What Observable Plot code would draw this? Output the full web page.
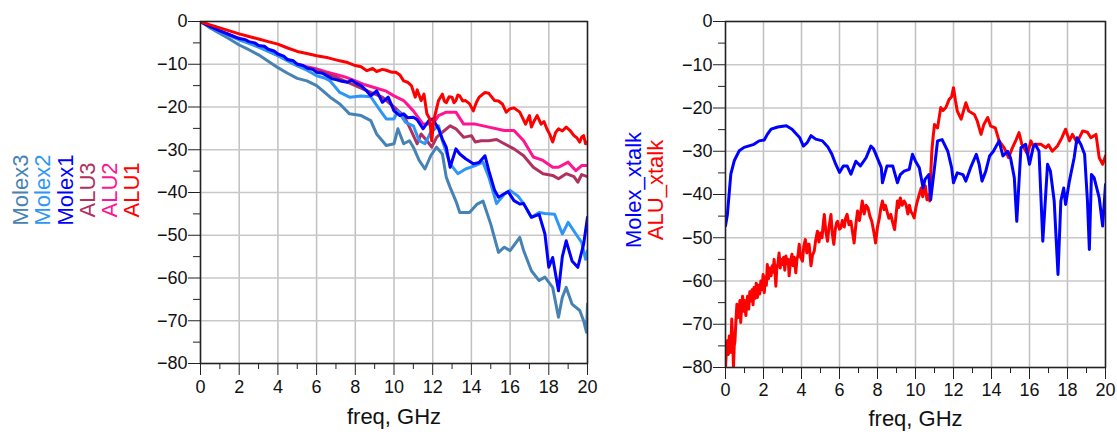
<!DOCTYPE html>
<html>
<head>
<meta charset="utf-8">
<script src="https://cdn.jsdelivr.net/npm/d3@7"></script>
<script src="https://cdn.jsdelivr.net/npm/@observablehq/plot@0.6"></script>
<style>
  html, body { margin: 0; padding: 0; background: #fff; }
  #wrap { position: relative; width: 1117px; height: 437px; overflow: hidden; font-family: "Liberation Sans", Arial, sans-serif; }
  #wrap svg { position: absolute; top: 0; }
  .leg { position: absolute; white-space: nowrap; font-size: 22px; line-height: 1; transform: translate(-50%, -50%) rotate(-90deg); }
</style>
</head>
<body>
<div id="wrap"></div>
<script>
// ---------- data (freq GHz, dB) ----------
const molex1 = [[0,0],[0.5,-1.2],[1,-2.2],[1.5,-3.1],[2,-4.0],[2.3,-4.2],[2.5,-4.7],[2.8,-5.0],[3,-5.6],[3.3,-5.8],[3.5,-6.5],[3.8,-6.9],[4,-7.6],[4.3,-8.1],[4.5,-8.9],[4.8,-9.2],[5,-10.0],[5.3,-10.3],[5.5,-10.9],[5.8,-11.2],[6,-11.9],[6.3,-12.1],[6.5,-12.6],[6.8,-13.4],[7,-13.6],[7.3,-14.0],[7.6,-14.2],[7.8,-13.7],[8.1,-14.6],[8.3,-15.0],[8.6,-16.3],[8.8,-17.4],[9.1,-16.2],[9.4,-18.9],[9.7,-17.7],[10,-20.9],[10.3,-22.0],[10.5,-21.6],[10.7,-22.5],[11,-22.4],[11.2,-23.0],[11.5,-25.1],[11.8,-23.2],[12,-22.8],[12.3,-25.1],[12.5,-27.5],[12.7,-29.4],[12.9,-34.1],[13.2,-29.8],[13.4,-31.0],[13.7,-32.1],[14.1,-33.3],[14.4,-33.0],[14.7,-31.4],[14.9,-34.9],[15.2,-39.5],[15.4,-41.1],[15.7,-40.3],[15.9,-39.8],[16.2,-41.9],[16.5,-42.7],[16.7,-42.6],[17.1,-45.8],[17.5,-45.1],[17.8,-49.7],[18,-57.5],[18.2,-55.2],[18.5,-63.0],[18.7,-55.0],[18.9,-51.3],[19.2,-56.0],[19.5,-57.5],[19.8,-52.1],[20,-45.8]];
const molex2 = [[0,0],[0.5,-1.3],[1,-2.4],[1.5,-3.3],[2,-4.3],[2.5,-5.1],[3,-6.0],[3.5,-7.0],[4,-8.0],[4.5,-9.2],[5,-10.4],[5.5,-11.4],[6,-12.7],[6.4,-13.2],[6.7,-13.9],[7.2,-16.6],[7.7,-17.7],[8.3,-17.4],[8.8,-17.6],[9.3,-20.9],[9.6,-22.8],[10,-22.8],[10.2,-20.9],[10.6,-23.6],[11,-24.4],[11.3,-27.9],[11.6,-28.6],[11.9,-25.9],[12.3,-24.4],[12.5,-27.9],[12.9,-33.3],[13.3,-35.6],[13.7,-34.5],[14.2,-33.7],[14.6,-32.9],[14.9,-36.4],[15.3,-42.6],[15.7,-40.4],[16,-39.5],[16.4,-40.8],[16.7,-42.6],[17.1,-45.8],[17.5,-44.7],[17.8,-44.9],[18.3,-45.1],[18.7,-49.7],[19,-47.0],[19.4,-49.7],[19.7,-51.7],[19.9,-55.6],[20,-53.6]];
const molex3 = [[0,0],[0.5,-1.5],[1,-2.8],[1.5,-4.1],[2,-5.5],[2.5,-6.6],[3,-7.8],[3.5,-9.3],[4,-10.8],[4.5,-12.1],[5,-13.3],[5.5,-13.9],[6,-15.0],[6.4,-16.5],[6.7,-17.7],[7.2,-19.3],[7.7,-21.6],[8.3,-22.0],[8.8,-23.2],[9.1,-26.3],[9.6,-29.0],[10,-28.6],[10.2,-25.1],[10.5,-28.6],[10.8,-27.9],[11,-29.4],[11.3,-32.5],[11.6,-34.5],[11.9,-31.4],[12.2,-29.4],[12.5,-31.0],[12.7,-36.4],[12.9,-38.8],[13.2,-42.0],[13.4,-44.7],[13.9,-44.7],[14.3,-42.7],[14.6,-42.0],[15,-47.4],[15.4,-54.0],[15.7,-52.8],[16,-53.6],[16.5,-50.5],[16.7,-53.6],[17.1,-58.3],[17.5,-60.6],[17.8,-59.8],[18.2,-62.2],[18.5,-69.2],[18.7,-64.5],[18.9,-62.2],[19.2,-66.1],[19.6,-67.6],[19.8,-70.0],[19.95,-72.7],[20,-66.1]];
const alu1 = [[0,0],[0.5,-0.8],[1,-1.5],[1.5,-2.2],[2,-2.9],[2.5,-3.5],[3,-4.1],[3.5,-4.7],[4,-5.3],[4.5,-6.2],[5,-7.0],[5.5,-7.5],[6,-8.0],[6.6,-8.5],[7.2,-9.2],[7.6,-9.6],[8,-10.3],[8.3,-10.6],[8.6,-11.5],[8.9,-11.0],[9.1,-11.7],[9.4,-11.2],[9.6,-11.4],[9.9,-11.9],[10.1,-11.9],[10.3,-12.5],[10.5,-13.9],[10.7,-14.2],[10.9,-15.0],[11.1,-17.7],[11.2,-16.0],[11.4,-18.5],[11.55,-17.0],[11.7,-21.6],[11.85,-22.8],[11.95,-27.9],[12.05,-23.2],[12.3,-18.5],[12.5,-17.0],[12.6,-18.6],[12.7,-19.0],[12.85,-17.6],[13,-17.7],[13.1,-19.0],[13.2,-18.5],[13.3,-17.2],[13.4,-17.4],[13.55,-18.6],[13.7,-18.5],[13.9,-19.2],[14.1,-20.9],[14.25,-19.0],[14.4,-17.7],[14.7,-16.6],[14.9,-16.8],[15.2,-18.5],[15.4,-18.6],[15.6,-19.3],[15.8,-21.2],[16.0,-20.4],[16.2,-20.2],[16.5,-21.2],[16.65,-22.6],[16.8,-24.0],[17,-22.0],[17.1,-24.7],[17.25,-23.2],[17.4,-22.0],[17.6,-24.0],[17.75,-23.4],[17.9,-25.1],[18.05,-26.4],[18.2,-28.2],[18.35,-26.0],[18.5,-25.1],[18.7,-25.6],[18.9,-24.7],[19.1,-25.5],[19.3,-26.7],[19.45,-27.2],[19.6,-28.2],[19.7,-27.0],[19.8,-26.7],[19.9,-28.6],[20,-28.2]];
const alu2 = [[0,0],[0.5,-1.2],[1,-2.2],[1.5,-3.1],[2,-4.0],[2.5,-4.9],[3,-5.8],[3.5,-6.8],[4,-7.8],[4.5,-8.9],[5,-9.9],[5.5,-10.6],[6,-11.1],[6.5,-11.8],[7,-12.4],[7.5,-13.0],[8,-13.9],[8.5,-14.8],[9.1,-15.6],[9.6,-16.3],[10,-17.4],[10.5,-18.5],[11,-20.9],[11.5,-24.0],[12,-24.0],[12.3,-22.0],[12.7,-21.2],[13.2,-21.2],[13.6,-24.0],[14.2,-24.0],[14.9,-24.7],[15.7,-25.5],[16.2,-25.5],[16.7,-27.9],[17.2,-31.7],[17.7,-32.5],[18.2,-34.1],[18.5,-34.1],[19,-32.9],[19.4,-34.9],[19.7,-33.7],[20,-33.7]];
const alu3 = [[0,0],[0.5,-1.2],[1,-2.2],[1.5,-3.2],[2,-4.1],[2.5,-5.0],[3,-5.9],[3.5,-6.9],[4,-7.9],[4.5,-9.0],[5,-10.1],[5.5,-10.8],[6,-11.4],[6.5,-12.2],[7,-13.0],[7.5,-14.0],[8,-15.0],[8.8,-16.6],[9.4,-17.7],[10,-20.0],[10.5,-22.0],[10.8,-24.7],[11.2,-28.6],[11.4,-26.3],[11.7,-27.9],[11.95,-29.4],[12.2,-27.1],[12.5,-25.9],[12.9,-24.4],[13.2,-25.1],[13.6,-27.1],[14,-26.7],[14.2,-28.2],[14.5,-27.9],[14.9,-27.9],[15.3,-27.6],[15.7,-28.6],[16.2,-29.8],[16.7,-31.4],[17.2,-34.1],[17.7,-35.6],[18.2,-36.0],[18.5,-36.8],[18.9,-35.6],[19.3,-36.3],[19.5,-37.6],[19.7,-35.8],[20,-36.3]];

const molexXtalk = [[0,-47.2],[0.1,-44.6],[0.28,-35.3],[0.46,-32.2],[0.72,-29.9],[0.98,-29.1],[1.5,-28.4],[1.77,-27.6],[2.04,-27.4],[2.2,-26.1],[2.4,-24.9],[2.75,-24.4],[3.2,-24.1],[3.5,-24.9],[3.9,-26.8],[4.1,-28.8],[4.3,-28.0],[4.5,-26.4],[4.75,-27.2],[5.1,-27.6],[5.4,-29.1],[5.6,-30.7],[5.8,-33.0],[6,-34.9],[6.2,-33.4],[6.4,-33.4],[6.6,-35.3],[6.86,-32.3],[7.1,-33.4],[7.4,-31.5],[7.65,-28.8],[7.8,-29.5],[8.2,-33.8],[8.26,-37.3],[8.5,-33.4],[8.8,-33.4],[9.05,-37.3],[9.2,-35.4],[9.4,-34.6],[9.67,-34.2],[9.84,-30.7],[10,-32.3],[10.2,-33.8],[10.4,-38.5],[10.5,-36.5],[10.7,-35.4],[10.8,-41.2],[11,-33.8],[11.16,-27.6],[11.4,-27.3],[11.7,-30.0],[11.9,-33.8],[12,-37.3],[12.2,-35.0],[12.5,-35.4],[12.65,-36.9],[12.9,-33.8],[13.2,-30.7],[13.35,-33.0],[13.5,-36.9],[13.7,-34.6],[13.9,-31.1],[14.1,-30.0],[14.4,-27.6],[14.6,-31.1],[14.85,-30.0],[15,-31.5],[15.2,-36.1],[15.33,-46.2],[15.55,-29.2],[15.8,-28.4],[16,-33.0],[16.2,-29.0],[16.3,-28.4],[16.5,-30.0],[16.7,-50.8],[16.95,-33.0],[17.1,-34.6],[17.3,-41.5],[17.5,-58.5],[17.65,-41.5],[17.8,-38.5],[17.9,-42.3],[18.1,-36.9],[18.35,-31.5],[18.5,-26.9],[18.7,-28.4],[18.9,-30.7],[19.05,-41.5],[19.15,-52.7],[19.26,-35.4],[19.4,-36.1],[19.67,-40.8],[19.85,-47.3],[20,-37.7]];
const aluXtalk = [[0,-80],[0.05,-76],[0.1,-73.8],[0.15,-77],[0.2,-72.7],[0.25,-75],[0.28,-76.5],[0.33,-68.8],[0.38,-74],[0.42,-80],[0.46,-75],[0.5,-73.8],[0.55,-69],[0.6,-65.4],[0.65,-68.5],[0.72,-66.9],[0.76,-64.5],[0.8,-69.6],[0.85,-66],[0.9,-63.5],[0.95,-67],[1.0,-64.5],[1.07,-68],[1.12,-65],[1.16,-63.5],[1.22,-66.5],[1.28,-62.5],[1.33,-64.6],[1.4,-62],[1.45,-65.5],[1.5,-61.5],[1.56,-64],[1.62,-60.5],[1.68,-63.8],[1.74,-61],[1.8,-63],[1.86,-60],[1.92,-62],[1.98,-58.5],[2.04,-62.7],[2.1,-59],[2.15,-61],[2.2,-56.2],[2.26,-59.5],[2.32,-57],[2.4,-58.8],[2.46,-56.5],[2.5,-58],[2.56,-55],[2.6,-57.5],[2.65,-61.2],[2.7,-57],[2.76,-56],[2.82,-53.5],[2.88,-57],[2.94,-55],[3,-56.2],[3.06,-54.5],[3.12,-57.5],[3.18,-54.2],[3.24,-56],[3.3,-55],[3.35,-58.8],[3.42,-55.5],[3.5,-53.8],[3.56,-56.5],[3.62,-54.5],[3.7,-58.1],[3.76,-55],[3.82,-54],[3.88,-51.5],[3.95,-54.5],[4.05,-55.4],[4.12,-52],[4.2,-50.4],[4.28,-53.5],[4.34,-51.5],[4.4,-51.5],[4.45,-54],[4.5,-56.5],[4.58,-54],[4.67,-53.1],[4.75,-50.5],[4.84,-48.5],[4.92,-51],[5,-48.9],[5.08,-50],[5.14,-47],[5.2,-44.6],[5.28,-48.5],[5.37,-50.8],[5.45,-47.5],[5.55,-44.6],[5.62,-49],[5.7,-51.5],[5.78,-48],[5.85,-46.5],[5.9,-46.2],[6.0,-48],[6.07,-47.7],[6.15,-46],[6.25,-47.5],[6.32,-45.5],[6.4,-44.6],[6.5,-47],[6.6,-46.2],[6.68,-48.5],[6.77,-51.2],[6.86,-47],[6.95,-43.8],[7.05,-46],[7.12,-44],[7.2,-41.5],[7.3,-44.5],[7.4,-42.5],[7.5,-43.1],[7.6,-45],[7.7,-46.2],[7.8,-48.5],[7.9,-51.2],[8.0,-47.5],[8.1,-45.4],[8.18,-43],[8.26,-41.5],[8.35,-43.5],[8.42,-42.5],[8.5,-43.9],[8.6,-45.5],[8.7,-44.6],[8.8,-46.5],[8.9,-48.1],[8.97,-45],[9.05,-41.5],[9.12,-43],[9.2,-40.8],[9.3,-42.5],[9.4,-41.5],[9.5,-42.3],[9.6,-44.5],[9.68,-42.5],[9.75,-43.9],[9.84,-44.5],[9.93,-45.4],[10.02,-43],[10.1,-41.5],[10.2,-40],[10.3,-38.5],[10.38,-40.5],[10.45,-39.2],[10.52,-38],[10.6,-41.2],[10.7,-40],[10.75,-41.5],[10.8,-35.4],[10.86,-30],[10.92,-27],[11,-23.8],[11.16,-24.6],[11.33,-19.9],[11.45,-20.6],[11.6,-19.9],[11.77,-18],[11.9,-17.4],[12,-15.3],[12.1,-18.2],[12.2,-20.7],[12.4,-22.6],[12.65,-18.8],[12.8,-20.7],[13.1,-21.5],[13.25,-23],[13.45,-26.1],[13.6,-23.8],[13.8,-22.2],[13.96,-24.2],[14.2,-24.6],[14.4,-27.6],[14.67,-29.2],[14.9,-31.5],[15.1,-29.2],[15.3,-27.3],[15.45,-25.7],[15.6,-28.4],[15.9,-30.7],[16.07,-27.6],[16.2,-28.8],[16.33,-28.4],[16.6,-28.4],[16.86,-29.2],[17,-28.5],[17.2,-30],[17.47,-28.8],[17.7,-26.9],[17.9,-24.9],[18.1,-27.6],[18.26,-26.1],[18.5,-28],[18.8,-25.3],[19.05,-25.6],[19.23,-26.9],[19.5,-26.1],[19.67,-31.5],[19.85,-33],[20,-31.1]];

const xMajor = [0,2,4,6,8,10,12,14,16,18,20];
const xMinor = [1,3,5,7,9,11,13,15,17,19];
const yMajor = [-80,-70,-60,-50,-40,-30,-20,-10,0];
const yMinor = [-75,-65,-55,-45,-35,-25,-15,-5];
const xLabel = "freq, GHz";

const leftSeries = [
  {name: "Molex3", data: molex3, color: "#4682B4"},
  {name: "Molex2", data: molex2, color: "#2E96F5"},
  {name: "Molex1", data: molex1, color: "#0000FF"},
  {name: "ALU3", data: alu3, color: "#B03060"},
  {name: "ALU2", data: alu2, color: "#FF1493"},
  {name: "ALU1", data: alu1, color: "#FF0000"}
];
const rightSeries = [
  {name: "Molex_xtalk", data: molexXtalk, color: "#0000FF"},
  {name: "ALU_xtalk", data: aluXtalk, color: "#FF0000"}
];

function panel(series, drawOrder, {width, marginLeft, marginRight, marginBottom, tickPadX, labelDy}) {
  return Plot.plot({
    width, height: 437,
    marginLeft, marginRight, marginTop: 21, marginBottom,
    x: {domain: [0, 20]},
    y: {domain: [-80, 0]},
    style: {fontFamily: "'Liberation Sans', Arial, sans-serif", fontSize: "18px", color: "#111", background: "transparent", overflow: "visible"},
    marks: [
      Plot.gridX(xMajor, {stroke: "#c0c0c0", strokeOpacity: 1, strokeWidth: 1.5}),
      Plot.gridY(yMajor, {stroke: "#c8c8c8", strokeOpacity: 1, strokeWidth: 1.5}),
      ...drawOrder.map(i => Plot.line(series[i].data, {x: d => d[0], y: d => d[1], stroke: series[i].color, strokeWidth: 3, clip: true})),
      Plot.frame({stroke: "#222", strokeWidth: 1.5}),
      Plot.axisY(yMajor, {tickSize: 12, tickPadding: 1, label: null, stroke: "#222"}),
      Plot.axisY(yMinor, {tickSize: 7, tickFormat: () => "", label: null, stroke: "#222"}),
      Plot.axisX(xMajor, {tickSize: 12, tickPadding: tickPadX, label: null, stroke: "#222"}),
      Plot.axisX(xMinor, {tickSize: 6, tickFormat: () => "", label: null, stroke: "#222"}),
      Plot.text([xLabel], {frameAnchor: "bottom", dy: labelDy, fontSize: 22, text: d => d, fill: "#111"})
    ]
  });
}

const wrap = document.getElementById("wrap");
const left = panel(leftSeries, [4, 3, 0, 1, 2, 5], {width: 600, marginLeft: 200, marginRight: 13, marginBottom: 74, tickPadX: 5, labelDy: 60});
left.style.left = "0px";
wrap.appendChild(left);
const right = panel(rightSeries, [1, 0], {width: 517, marginLeft: 125, marginRight: 12, marginBottom: 70, tickPadX: 4, labelDy: 58});
right.style.left = "600px";
wrap.appendChild(right);

// rotated legends
const legLeftX = [20.5, 43, 65.5, 87.5, 109.5, 132];
leftSeries.forEach((s, i) => {
  const d = document.createElement("div");
  d.className = "leg";
  d.textContent = s.name;
  d.style.color = s.color;
  d.style.left = legLeftX[i] + "px";
  d.style.top = "190px";
  wrap.appendChild(d);
});
const legRightX = [634, 656];
rightSeries.forEach((s, i) => {
  const d = document.createElement("div");
  d.className = "leg";
  d.textContent = s.name;
  d.style.color = s.color;
  d.style.left = legRightX[i] + "px";
  d.style.top = "190px";
  wrap.appendChild(d);
});
</script>
</body>
</html>
